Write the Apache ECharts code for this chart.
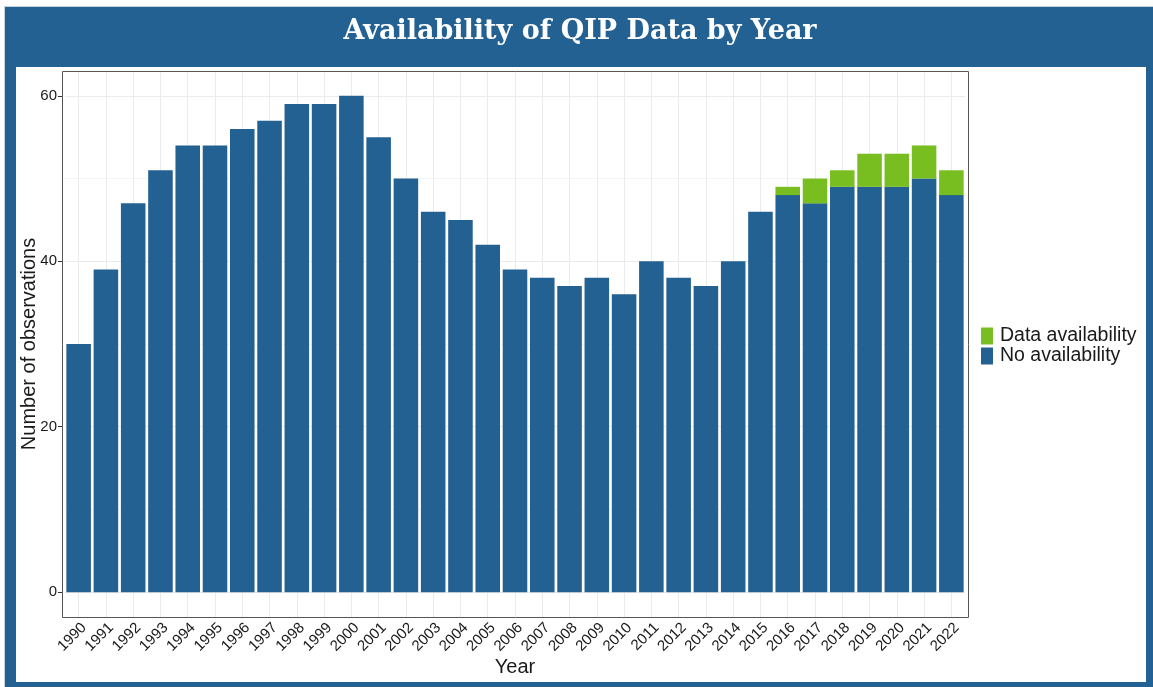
<!DOCTYPE html>
<html>
<head>
<meta charset="utf-8">
<script src="https://cdn.jsdelivr.net/npm/echarts@6/dist/echarts.min.js"></script>
<style>
  html, body { margin: 0; padding: 0; background: #fff; }
  #frame {
    position: absolute; left: 4px; top: 6px; right: 0; bottom: 0;
    background: #236192; border-left: 1px solid #c8d3dc; border-top: 1px solid #c8d3dc;
  }
  #panel { position: absolute; left: 16px; top: 67px; width: 1130px; height: 615px; background: #fff; }
  #chart { position: absolute; left: 0; top: 0; width: 1153px; height: 687px; }
</style>
</head>
<body>
<div id="frame"></div>
<div id="panel"></div>
<div id="chart"></div>
<script>
const years = ['1990', '1991', '1992', '1993', '1994', '1995', '1996', '1997', '1998', '1999',
  '2000', '2001', '2002', '2003', '2004', '2005', '2006', '2007', '2008', '2009', '2010',
  '2011', '2012', '2013', '2014', '2015', '2016', '2017', '2018', '2019', '2020', '2021', '2022'];

const noAvailability = [30, 39, 47, 51, 54, 54, 56, 57, 59, 59,
  60, 55, 50, 46, 45, 42, 39, 38, 37, 38, 36,
  40, 38, 37, 40, 46, 48, 47, 49, 49, 49, 50, 48];

const dataAvailability = [0, 0, 0, 0, 0, 0, 0, 0, 0, 0,
  0, 0, 0, 0, 0, 0, 0, 0, 0, 0, 0,
  0, 0, 0, 0, 0, 1, 3, 2, 4, 4, 4, 3];

const yMajorTicks = [0, 20, 40, 60];
const yMinorTicks = [10, 30, 50];

const BLUE = '#236192';
const GREEN = '#78be20';
const GRID_COLOR = '#ebebeb';
const TEXT_COLOR = '#1a1a1a';

const chart = echarts.init(document.getElementById('chart'), null, { renderer: 'canvas' });

chart.setOption({
  animation: false,
  backgroundColor: 'transparent',
  textStyle: { fontFamily: 'Liberation Sans, Arial, sans-serif' },
  grid: { left: 65, right: 188, top: 71, bottom: 70 },
  legend: {
    data: ['Data availability', 'No availability'],
    orient: 'vertical',
    left: 981,
    top: 326,
    padding: 0,
    itemGap: 0,
    itemWidth: 12,
    itemHeight: 17,
    icon: 'rect',
    textStyle: { fontSize: 19.5, color: TEXT_COLOR, padding: [0, 0, 0, 2] }
  },
  xAxis: {
    type: 'category',
    data: years,
    name: 'Year',
    nameLocation: 'middle',
    nameGap: 40,
    nameMoveOverlap: false,
    nameTextStyle: { fontSize: 20, color: TEXT_COLOR },
    axisLine: { show: false },
    axisTick: { alignWithLabel: true, length: 4, lineStyle: { color: '#333' } },
    axisLabel: { rotate: 45, margin: 3, fontSize: 15, color: TEXT_COLOR, interval: 0, verticalAlign: 'top' },
    splitLine: { show: true, alignWithLabel: true, lineStyle: { color: GRID_COLOR, width: 1 } }
  },
  yAxis: [
    {
      type: 'value',
      min: -3,
      max: 63,
      offset: 3,
      name: 'Number of observations',
      nameLocation: 'middle',
      nameGap: 23,
      nameMoveOverlap: false,
      nameTextStyle: { fontSize: 20, color: TEXT_COLOR },
      axisLine: { show: false },
      axisTick: { show: true, length: 4, customValues: yMajorTicks, lineStyle: { color: '#333' } },
      axisLabel: { customValues: yMajorTicks, fontSize: 15, color: TEXT_COLOR, margin: 5 },
      splitLine: { show: true, lineStyle: { color: GRID_COLOR, width: 1 } }
    },
    {
      type: 'value',
      min: -3,
      max: 63,
      position: 'left',
      axisLine: { show: false },
      axisTick: { show: false, customValues: yMinorTicks },
      axisLabel: { show: false, customValues: yMinorTicks },
      splitLine: { show: true, lineStyle: { color: '#f4f4f4', width: 1 } }
    }
  ],
  graphic: [
    {
      type: 'rect',
      shape: { x: 62.5, y: 71.5, width: 906, height: 546 },
      style: { fill: null, stroke: '#555', lineWidth: 1 },
      z: 10,
      silent: true
    },
    {
      type: 'text',
      style: {
        text: 'Availability of QIP Data by Year',
        x: 580,
        y: 32,
        textAlign: 'center',
        textVerticalAlign: 'middle',
        fill: '#fff',
        font: 'bold 27px "DejaVu Serif", "Liberation Serif", serif'
      },
      silent: true
    }
  ],
  series: [
    {
      name: 'No availability',
      type: 'bar',
      stack: 'obs',
      barWidth: '90%',
      itemStyle: { color: BLUE },
      data: noAvailability
    },
    {
      name: 'Data availability',
      type: 'bar',
      stack: 'obs',
      barWidth: '90%',
      itemStyle: { color: GREEN },
      data: dataAvailability
    }
  ]
});
</script>
</body>
</html>
